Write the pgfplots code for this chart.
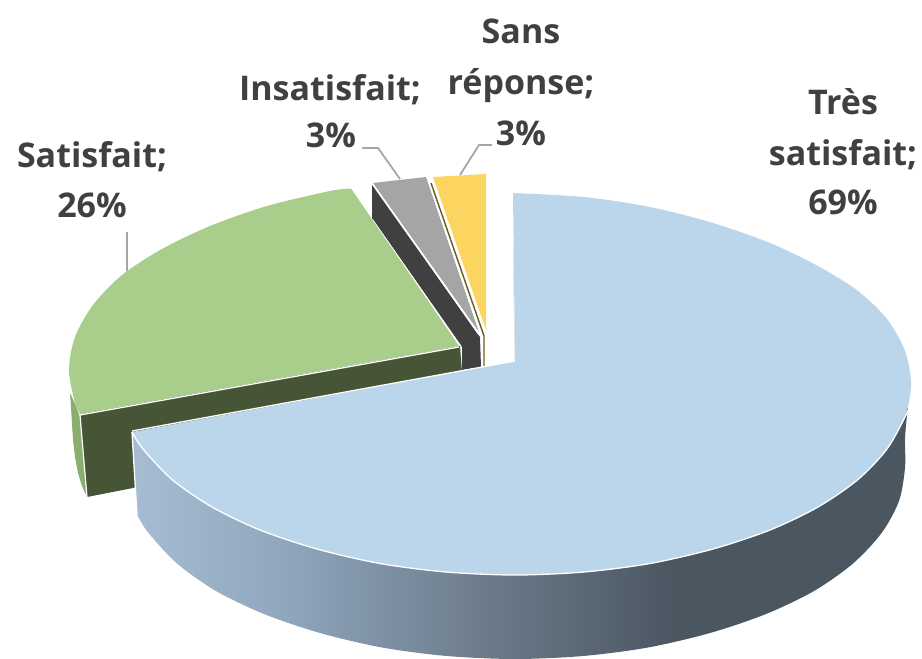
\documentclass[border=0pt]{standalone}
\usepackage{pgfplots}
\pgfplotsset{compat=1.18}
\usepackage{fontspec}
\setmainfont{Open Sans}
\definecolor{txt}{HTML}{404040}
\definecolor{bluetop}{HTML}{BBD5EB}
\definecolor{greentop}{HTML}{A9CE8B}
\definecolor{greenside}{HTML}{8AAE6E}
\definecolor{greendark}{HTML}{475537}
\definecolor{greytop}{HTML}{A5A5A5}
\definecolor{greydark}{HTML}{404040}
\definecolor{yellowtop}{HTML}{FBD55F}
\definecolor{olive}{HTML}{6E5A1E}
\definecolor{leader}{HTML}{A6A6A6}
\pgfdeclarehorizontalshading{blueside}{100bp}{
 rgb(0bp)=(0.65,0.74,0.83);
 rgb(25bp)=(0.65,0.74,0.83);
 rgb(35bp)=(0.56,0.65,0.74);
 rgb(48bp)=(0.42,0.48,0.54);
 rgb(60bp)=(0.29,0.34,0.38);
 rgb(100bp)=(0.29,0.34,0.38)}
\newcommand{\lab}[3]{\node[anchor=base,text=txt,font=\fontsize{34}{34}\selectfont\bfseries,inner sep=0pt] at (axis cs:#1,#2) {#3};}
\begin{document}
\begin{tikzpicture}
\useasboundingbox (0,0) rectangle (922pt,659pt);
\begin{axis}[
  at={(0,0)},anchor=south west,
  width=922pt,height=659pt,scale only axis,
  xmin=0,xmax=922,ymin=0,ymax=659,y dir=reverse,
  hide axis,clip=false]
% dark green inner wall of Satisfait
\addplot[fill=greendark,draw=none] coordinates {(80,414)(460,346)(462,372)(133,488)(87,497)};
% green outer wall
\addplot[fill=greenside,draw=none] coordinates {(70,393)(80,414)(87,497)(82,486)(78,473)(75,457)(73,440)(72,424)(71,407)};
\addplot[white,line width=1.2pt] coordinates {(72,393)(80,415)(87,497)};
% green top
\addplot[fill=greentop,draw=none,smooth,tension=0.5] coordinates {
 (351,188.5)(330,191)(267,206)(210,226)(162,249)(122,275)(93,305)(75,337)(69,370)(75,403)(79.6,413)(80,414)(80,414)(81,413.8)(83,413.5)(88.9,412.4)(106.6,409.2)(159.7,399.7)(319.1,371)(420,353)(450,347.6)(457,346.4)(459,346)};
\addplot[white,line width=1.3pt] coordinates {(80,415)(459,347)};
% grey dark wall
\addplot[fill=greydark,draw=none] coordinates {(372,185)(372,218)(462,347)(462,370)(481,367)(480,337)};
\addplot[white,line width=0.5pt] coordinates {(373,220)(461,346)};
% grey top
\addplot[fill=greytop,draw=none] coordinates {(373,183)(426,177)(479,332)};
\addplot[white,line width=1pt] coordinates {(373,184)(479,335)};
\addplot[white,line width=1pt] coordinates {(427,177)(480,332)};
% olive wall of Sans reponse
\addplot[olive,line width=1.4pt] coordinates {(431,183)(484,336)(484,366)};
\addplot[white,line width=0.7pt] coordinates {(429,183)(481,336)(482,367)};
% yellow top
\addplot[fill=yellowtop,draw=none] coordinates {(433,177)(486,174)(486,330)};
% blue wall
\addplot[shade,shading=blueside,draw=none,smooth,tension=0.5] coordinates {
 (908,408)(907.9,409.5)(906.5,420)(905,440)(905,468)(899,501)(881.6,533)(853,563.5)(814,591)(766,614)(710,633)(648,647.5)(583,656)(515,659)(447,656)(382,647.5)(320,633)(264,614)(216,591)(177,563.5)(148.5,533)(138,516.5)(137,515)(137,515)(136.9,514)(136.6,509)(136,499)(135,480)(133.5,455)(132.5,440)(132,432)};
% blue top
\addplot[fill=bluetop,draw=none,smooth,tension=0.5] coordinates {
 (513,193)(584,197)(650,207)(713,223)(770,243)(818,266)(858,291)(887,319)(905,351)(911,384)(905,417)(887,449)(858,479.5)(818,507)(770,530)(713,549)(650,563.5)(584,572)(515,575)(446,572)(380,563.5)(317,549)(260,530)(212,507)(172,479.5)(143,449)(132.7,433)(132,432)(132,432)(133,431.8)(134.9,431.5)(140.8,430.4)(158.5,427.1)(211.6,417.3)(370.9,387.8)(466,370)(500,363.8)(510,362)(514,361.2)(515,361)};
\addplot[white,line width=1.3pt,smooth,tension=0.5] coordinates {
 (909,408)(905,417)(887,449)(858,479.5)(818,507)(770,530)(713,549)(650,563.5)(584,572)(515,575)(446,572)(380,563.5)(317,549)(260,530)(212,507)(172,479.5)(143,449)(132,432)};
\addplot[white,line width=1.3pt] coordinates {(132,432)(137,515)};
\addplot[white,line width=1.3pt] coordinates {(132,431)(515,361)};
\addplot[color=black!12,line width=0.6pt] coordinates {(513,247)(515,360)};
% leader lines
\addplot[leader,line width=1.8pt] coordinates {(127,232)(127,271)};
\addplot[leader,line width=1.8pt] coordinates {(362,148)(378,148)(400,179)};
\addplot[leader,line width=1.8pt] coordinates {(492,145)(479,145)(460,175)};
% labels
\lab{521}{43}{Sans}
\lab{521}{94}{réponse;}
\lab{521}{145}{3\%}
\lab{843}{114}{Très}
\lab{843}{165}{satisfait;}
\lab{843}{214}{69\%}
\lab{92}{167}{Satisfait;}
\lab{92}{217}{26\%}
\lab{330}{100}{Insatisfait;}
\lab{331}{147}{3\%}
\end{axis}
\end{tikzpicture}
\end{document}
